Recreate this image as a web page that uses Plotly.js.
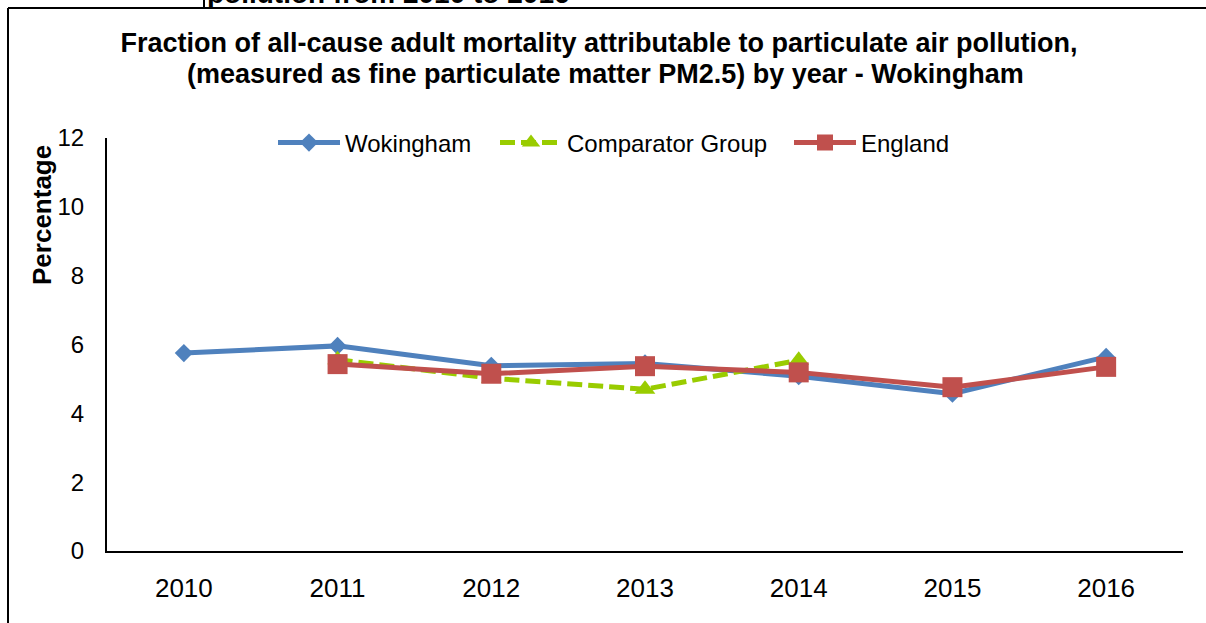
<!DOCTYPE html>
<html>
<head>
<meta charset="utf-8">
<script src="https://cdn.plot.ly/plotly-3.0.1.min.js"></script>
<style>
html,body{margin:0;padding:0;background:#fff;}
#chart{width:1206px;height:623px;}
</style>
</head>
<body>
<div id="chart"></div>
<script>
const years = ['2010','2011','2012','2013','2014','2015','2016'];
const wokingham = [5.75, 5.96, 5.38, 5.45, 5.08, 4.57, 5.64];
const comparator = [null, 5.56, 5.02, 4.70, 5.54, null, null];
const england = [null, 5.43, 5.15, 5.37, 5.19, 4.76, 5.35];
const yTicks = [0, 2, 4, 6, 8, 10, 12];
const titleLine1 = 'Fraction of all-cause adult mortality attributable to particulate air pollution,';
const titleLine2 = '(measured as fine particulate matter PM2.5) by year - Wokingham';

const FONT = 'Liberation Sans, Arial, sans-serif';
const PX = (px) => (px - 107) / 1076;   // page x -> paper x
const PY = (py) => (551 - py) / 413;    // page y -> paper y

const traces = [
  {x: years, y: wokingham, name: 'Wokingham', type: 'scatter', mode: 'lines+markers', legend: 'legend',
   line: {color: '#4F81BD', width: 5}, marker: {symbol: 'diamond', size: 14, color: '#4F81BD'}},
  {x: years, y: comparator, name: 'Comparator Group', type: 'scatter', mode: 'lines+markers', legend: 'legend2',
   line: {color: '#99CC00', width: 5, dash: '15px,6px'}, marker: {symbol: 'triangle-up', size: 18, color: '#99CC00'}},
  {x: years, y: england, name: 'England', type: 'scatter', mode: 'lines+markers', legend: 'legend3',
   line: {color: '#C0504D', width: 5}, marker: {symbol: 'square', size: 20, color: '#C0504D'}}
];

function legendAt(px) {
  return {orientation: 'h', x: PX(px), xanchor: 'left', y: PY(143), yanchor: 'middle',
          font: {family: FONT, size: 24, color: '#000'}, itemwidth: 62, bgcolor: 'rgba(0,0,0,0)'};
}

const layout = {
  width: 1206, height: 623,
  paper_bgcolor: '#fff', plot_bgcolor: '#fff',
  margin: {l: 107, r: 23, t: 138, b: 72, pad: 0},
  font: {family: FONT, size: 24, color: '#000'},
  title: {
    text: '<b>' + titleLine1 + '</b>',
    font: {family: FONT, size: 27, color: '#000'},
    x: 599/1206, xref: 'container', xanchor: 'center',
    y: 1 - 43/623, yref: 'container', yanchor: 'middle'
  },
  showlegend: true,
  legend: legendAt(273),
  legend2: legendAt(495),
  legend3: legendAt(789),
  xaxis: {type: 'category', range: [-0.5, 6.5], showgrid: false, zeroline: false,
          showline: true, linecolor: '#000', linewidth: 2, ticks: '',
          ticklabelstandoff: 13, tickfont: {family: FONT, size: 26, color: '#000'}, fixedrange: true},
  yaxis: {range: [0, 12], tickvals: yTicks, ticktext: yTicks.map(String), showgrid: false, zeroline: false,
          showline: true, linecolor: '#000', linewidth: 2, ticks: '',
          ticklabelstandoff: 16, tickfont: {family: FONT, size: 24, color: '#000'}, fixedrange: true},
  annotations: [
    {text: '<b>' + titleLine2 + '</b>', xref: 'paper', yref: 'paper',
     x: PX(605), y: PY(74), xanchor: 'center', yanchor: 'middle', showarrow: false,
     font: {family: FONT, size: 27, color: '#000'}},
    {text: '<b>Percentage</b>', textangle: -90, xref: 'paper', yref: 'paper',
     x: PX(42), y: PY(215), xanchor: 'center', yanchor: 'middle', showarrow: false,
     font: {family: FONT, size: 26, color: '#000'}},
    {text: '<b>pollution from 2010 to 2016</b>', xref: 'paper', yref: 'paper',
     x: PX(205), y: PY(-7), xanchor: 'left', yanchor: 'middle', showarrow: false,
     font: {family: FONT, size: 28, color: '#000'}}
  ],
  shapes: [
    {type: 'line', xref: 'paper', yref: 'paper', x0: PX(8), x1: PX(1206), y0: PY(8), y1: PY(8),
     line: {color: '#000', width: 2}},
    {type: 'line', xref: 'paper', yref: 'paper', x0: PX(8), x1: PX(8), y0: PY(8), y1: PY(630),
     line: {color: '#000', width: 2}},
    {type: 'line', xref: 'paper', yref: 'paper', x0: PX(204), x1: PX(204), y0: PY(-2), y1: PY(8),
     line: {color: '#000', width: 2}}
  ]
};

Plotly.newPlot('chart', traces, layout, {displayModeBar: false, staticPlot: true});
</script>
</body>
</html>
